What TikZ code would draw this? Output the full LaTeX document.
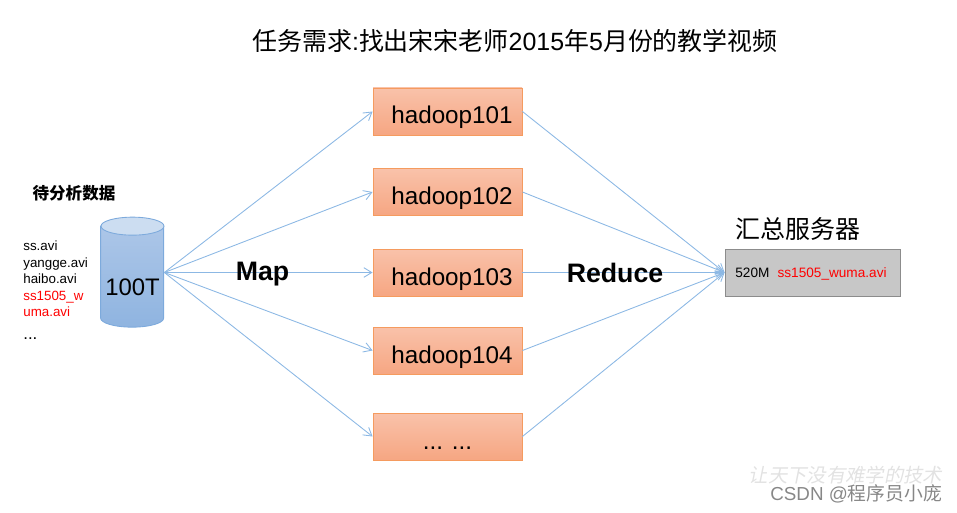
\documentclass[tikz,border=0pt]{standalone}
\usepackage{xcolor}
\usepackage{fontspec}
\usetikzlibrary{shapes.geometric, arrows.meta, positioning, calc}
\setmainfont{Liberation Sans}
\newfontfamily\cjk{Noto Sans CJK SC}
\definecolor{boxtop}{RGB}{249,194,170}
\definecolor{boxbot}{RGB}{246,166,130}
\definecolor{boxline}{RGB}{245,155,95}
\definecolor{cyltop}{RGB}{172,198,232}
\definecolor{cylbot}{RGB}{143,180,224}
\definecolor{cylcap}{RGB}{204,221,241}
\definecolor{cylline}{RGB}{125,170,220}
\definecolor{flowline}{RGB}{140,184,228}
\definecolor{sumfill}{RGB}{199,199,199}
\definecolor{sumline}{RGB}{140,140,140}
\definecolor{stamp}{RGB}{226,226,226}
\definecolor{mark}{RGB}{135,135,135}
\tikzset{
  hostbox/.style={rectangle, draw=boxline, top color=boxtop, bottom color=boxbot,
    minimum width=2.98cm, minimum height=0.94cm, inner ysep=0pt, text height=0.6cm, text depth=0.1cm,
    font=\fontsize{13.8}{15}\selectfont, line width=0.5pt},
  flow/.style={-{Straight Barb[length=4.5pt,width=5.5pt]}, color=flowline, line width=0.5pt},
  biglabel/.style={font=\bfseries\fontsize{15.2}{17}\selectfont, inner sep=0pt},
  zhlabel/.style={font=\cjk\fontsize{14.2}{16}\selectfont, inner sep=0pt}
}

\begin{document}
\begin{tikzpicture}
  \useasboundingbox (0,0) rectangle (19.14,10.24);

  \node[inner sep=0pt, font=\fontsize{14.2}{16}\selectfont] (title) at (10.3,9.43)
    {{\cjk 任务需求}:{\cjk 找出宋宋老师}2015{\cjk 年}5{\cjk 月份的教学视频}};

  \node[font=\cjk\bfseries\fontsize{9.4}{11}\selectfont, inner sep=0pt] (datatitle) at (1.48,6.38) {待分析数据};

  % data store
  \node[rectangle, minimum width=1.26cm, minimum height=2.2cm, inner sep=0pt] (store) at (2.65,4.79) {};
  \draw[draw=cylline, top color=cyltop, bottom color=cylbot, line width=0.5pt]
    ($(store.north west)+(0,-0.18)$) -- ++(0,-1.84) arc[start angle=180, end angle=360, x radius=0.63, y radius=0.18]
    -- ++(0,1.84) -- cycle;
  \draw[draw=cylline, fill=cylcap, line width=0.5pt] ($(store.north)+(0,-0.18)$) ellipse (0.63cm and 0.18cm);
  \node[inner sep=0pt, font=\fontsize{13.6}{15}\selectfont] (storesize) at (2.65,4.5) {100T};

  \node[anchor=north west, inner sep=0pt, align=left, font=\fontsize{7.6}{9.4}\selectfont] (files) at (0.46,5.43)
    {ss.avi\\yangge.avi\\haibo.avi\\\textcolor{red}{ss1505\_w}\\\textcolor{red}{uma.avi}};
  \node[anchor=west, inner sep=0pt, font=\fontsize{9.6}{11}\selectfont] (dots) at (0.46,3.47) {...};

  % hosts
  \node[hostbox] (h1) at (8.95,8.01) {\hspace*{0.18cm}hadoop101};
  \node[hostbox] (h2) at (8.95,6.4) {\hspace*{0.18cm}hadoop102};
  \node[hostbox] (h3) at (8.95,4.79) {\hspace*{0.18cm}hadoop103};
  \node[hostbox] (h4) at (8.95,3.23) {\hspace*{0.18cm}hadoop104};
  \node[hostbox] (h5) at (8.95,1.51) {... ...};

  % summary
  \node[rectangle, draw=sumline, fill=sumfill, minimum width=3.5cm, minimum height=0.94cm, inner sep=0pt,
    line width=0.5pt] (sumbox) at (16.25,4.79) {};
  \node[anchor=west, inner sep=0pt, font=\fontsize{7.75}{9}\selectfont] (sumtext) at (14.7,4.76)
    {520M\hspace{0.6em}\textcolor{red}{ss1505\_wuma.avi}};
  \node[zhlabel, anchor=west] (sumtitle) at (14.7,5.66) {汇总服务器};

  % Edges (map, then reduce)
  \draw[flow] (store.east) -- (h1.west);
  \draw[flow] (store.east) -- (h2.west);
  \draw[flow] (store.east) -- (h3.west);
  \draw[flow] (store.east) -- (h4.west);
  \draw[flow] (store.east) -- (h5.west);

  \draw[flow] (h1.east) -- (sumbox.west);
  \draw[flow] (h2.east) -- (sumbox.west);
  \draw[flow] (h3.east) -- (sumbox.west);
  \draw[flow] (h4.east) -- (sumbox.west);
  \draw[flow] (h5.east) -- (sumbox.west);

  \node[biglabel] (maplabel) at (5.25,4.76) {Map};
  \node[biglabel] (reducelabel) at (12.3,4.78) {Reduce};

  \node[anchor=west, inner sep=0pt, text=stamp, xslant=0.2, font=\cjk\fontsize{11}{13}\selectfont] (slogan) at (15.0,0.74) {让天下没有难学的技术};
  \node[anchor=west, inner sep=0pt, text=mark, font=\fontsize{10.7}{12}\selectfont] (csdn) at (15.4,0.36) {CSDN @{\cjk 程序员小庞}};
\end{tikzpicture}
\end{document}
